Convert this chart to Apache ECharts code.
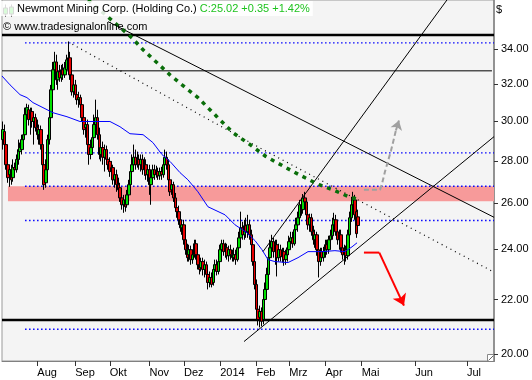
<!DOCTYPE html>
<html><head><meta charset="utf-8">
<script src="https://cdn.jsdelivr.net/npm/echarts@6/dist/echarts.min.js"></script>
<style>html,body{margin:0;padding:0;background:#fff}#c{width:532px;height:380px}</style>
</head><body><div id="c"></div>
<script>
// Bars are indexed in trading days, 0 = 1 Aug 2013; future area continues in calendar-day slots.
const firstBar = -20;
const open = [29.05,29.46,28.80,27.81,27.33,27.57,27.19,27.67,27.57,28.07,28.45,28.55,29.05,29.30,30.34,30.60,30.08,30.50,29.98,30.18,
29.66,29.30,29.56,28.80,27.81,26.95,27.57,29.05,30.18,31.68,32.80,33.25,32.23,32.69,32.34,32.80,32.51,32.80,33.37,33.49,32.51,31.57,
31.95,31.41,31.14,31.25,30.87,30.18,29.66,29.82,28.80,28.31,28.65,29.15,29.82,30.18,29.30,28.31,28.65,28.17,28.55,28.07,
27.97,27.48,27.67,27.09,27.33,26.86,26.72,26.25,25.94,26.16,25.94,26.39,26.86,27.48,27.81,28.17,27.81,28.07,27.81,28.07,27.57,27.81,27.33,
27.57,26.86,27.19,27.57,27.33,27.48,27.28,27.48,27.33,27.81,28.17,27.81,27.09,26.62,26.86,26.25,25.81,25.63,25.27,24.92,
25.05,24.41,23.99,23.78,23.99,23.58,23.78,24.24,23.78,23.37,23.25,23.50,23.18,23.37,22.98,22.66,22.86,22.66,23.18,23.37,23.10,
23.50,23.99,24.24,23.91,24.07,23.74,23.99,23.78,23.66,23.78,23.58,24.07,24.49,24.92,24.62,25.01,24.75,25.05,24.62,24.20,23.50,
22.58,21.63,21.33,21.55,21.25,22.00,22.39,22.98,23.66,24.07,24.33,23.91,24.20,23.66,23.99,23.70,23.91,23.58,23.78,
23.99,24.33,24.49,24.24,24.84,25.05,25.36,25.94,25.72,26.25,26.07,25.49,25.05,25.36,24.75,24.41,24.62,23.99,23.50,23.91,23.66,
23.91,24.20,23.99,24.41,24.58,25.05,25.27,24.75,24.41,24.62,24.07,23.78,23.99,23.74,24.62,25.36,25.94,26.16,25.63,25.40];
const high = [29.98,29.82,29.05,28.07,27.81,27.81,28.07,27.91,28.31,29.05,28.90,29.30,29.66,30.71,30.92,30.87,30.71,30.71,30.50,30.39,
30.08,29.82,29.77,29.05,28.17,28.07,29.30,30.50,31.95,33.25,33.84,33.67,33.02,33.08,33.08,33.14,33.25,33.67,34.43,33.84,32.80,32.23,
32.23,31.79,31.57,31.41,31.14,30.50,30.18,30.08,29.15,29.05,29.46,30.34,31.14,30.60,29.66,29.05,28.95,28.80,28.75,28.31,
28.17,27.97,27.81,27.57,27.57,27.19,26.95,26.53,26.39,26.34,26.62,27.09,27.67,28.31,28.80,28.55,28.45,28.31,28.31,28.31,28.17,28.07,27.81,
27.81,27.57,27.81,27.81,27.76,27.67,27.67,27.71,28.07,28.55,28.45,28.07,27.33,27.09,27.00,26.48,26.07,25.90,25.49,25.27,
25.27,24.62,24.24,24.20,24.16,23.99,24.41,24.41,23.99,23.66,23.66,23.66,23.58,23.50,23.18,23.10,23.06,23.37,23.58,23.58,23.70,
24.20,24.41,24.41,24.28,24.24,24.16,24.20,23.99,24.07,23.99,24.24,24.75,25.63,25.18,25.27,25.36,25.49,25.27,24.84,24.49,23.78,
22.78,21.81,21.77,21.70,22.15,22.66,23.25,23.78,24.41,24.62,24.49,24.41,24.41,24.24,24.20,24.07,24.07,23.99,24.24,
24.58,24.75,24.75,25.05,25.36,25.63,26.16,26.25,26.43,26.53,26.25,25.72,25.54,25.54,25.01,24.84,24.75,24.24,24.07,24.07,24.11,
24.41,24.41,24.58,24.84,25.36,25.58,25.49,25.01,24.84,24.84,24.24,24.20,24.16,24.84,25.63,26.30,26.53,26.39,25.81,25.72];
const low = [28.55,28.55,27.57,26.95,26.76,26.86,27.00,27.33,27.43,27.81,28.07,28.31,28.80,29.15,29.98,29.77,29.30,29.66,28.80,29.46,
29.05,28.80,28.55,27.57,26.62,26.72,27.33,28.80,29.98,31.41,32.34,31.95,31.68,32.12,32.12,32.23,32.34,32.57,32.80,32.23,31.36,31.25,
31.14,30.87,30.71,30.60,29.98,29.30,29.15,28.55,27.81,28.07,28.31,28.95,29.56,29.05,28.07,27.97,27.81,27.48,27.81,27.57,
27.23,27.19,26.86,26.72,26.53,26.39,26.07,25.72,25.58,25.63,25.81,26.16,26.62,27.19,27.57,27.57,27.67,27.57,27.48,27.33,27.28,27.09,27.00,
26.39,25.94,27.00,27.09,27.19,27.09,27.09,27.09,27.19,27.57,27.57,26.86,26.34,26.39,26.07,25.63,25.36,25.05,24.75,24.62,
24.20,23.78,23.50,23.50,23.37,23.41,23.66,23.58,23.18,22.98,23.10,22.94,22.86,22.78,22.39,22.47,22.47,22.54,22.98,22.94,22.98,
23.33,23.78,23.74,23.66,23.58,23.50,23.58,23.50,23.50,23.37,23.50,23.91,24.33,24.41,24.41,24.49,24.49,24.41,23.99,23.33,22.39,
21.44,21.03,20.96,21.00,21.07,21.63,22.19,22.78,23.50,23.78,23.66,23.37,22.90,23.50,23.50,23.46,23.33,23.37,23.50,
23.78,24.07,24.07,24.16,24.58,24.75,25.18,25.45,25.54,25.81,25.27,24.84,24.75,24.58,24.20,24.07,23.74,22.86,23.33,23.50,23.50,
23.66,23.78,23.82,24.20,24.41,24.75,24.58,24.20,23.99,23.87,23.58,23.37,23.50,23.58,24.41,25.18,25.63,25.27,24.49,24.71];
const close = [29.56,28.80,27.81,27.19,27.57,27.09,27.67,27.57,28.07,28.55,28.65,29.05,29.30,30.34,30.71,30.08,30.50,29.98,30.18,29.66,
29.30,29.56,28.80,27.81,26.86,27.57,29.05,30.18,31.68,32.80,33.25,32.23,32.69,32.34,32.80,32.51,32.91,33.37,33.49,32.51,31.57,31.95,
31.41,31.14,31.25,30.87,30.18,29.56,29.82,28.80,28.31,28.65,29.15,29.82,30.18,29.30,28.31,28.65,28.17,28.55,28.07,27.81,
27.48,27.67,27.09,27.33,26.86,26.62,26.25,25.94,26.16,25.85,26.39,26.86,27.48,27.81,28.17,27.81,28.07,27.81,28.07,27.57,27.81,27.33,27.57,
26.86,27.19,27.57,27.33,27.48,27.28,27.48,27.33,27.81,28.17,27.81,27.09,26.53,26.86,26.25,25.81,25.63,25.27,24.92,25.05,
24.41,23.99,23.66,23.99,23.58,23.78,24.24,23.78,23.37,23.18,23.50,23.18,23.37,22.98,22.66,22.86,22.58,23.18,23.37,23.10,23.50,
23.99,24.24,23.91,24.07,23.74,23.99,23.78,23.66,23.78,23.58,24.07,24.49,24.92,24.62,25.01,24.75,25.05,24.62,24.20,23.50,22.58,
21.63,21.25,21.55,21.18,22.00,22.39,22.98,23.66,24.07,24.33,23.91,24.20,23.66,23.99,23.70,23.91,23.58,23.78,24.07,
24.33,24.49,24.24,24.84,25.05,25.36,25.94,25.72,26.25,26.07,25.49,25.05,25.36,24.75,24.41,24.62,23.99,23.50,23.91,23.66,23.91,
24.20,23.99,24.41,24.58,25.05,25.27,24.75,24.41,24.62,24.07,23.78,23.99,23.74,24.62,25.36,25.94,26.16,25.49,24.67,25.02];

// moving average (blue), read at sparse points: bar position / price
const maPos   = [-20.5,-15.8,-10.0,-6.0,-2.5,3.3,9.1,17.2,24.7,33.4,42.1,47.9,53.7,61.3,67.0,72.2,76.9,82.7,87.3,93.1,98.9,108.8,114.6,121.5,126.2,130.2,133.7,137.7,145.3,151.1,156.9,165.0,172.5,178.3,182.4,185.3];
const maPrice = [32.45,31.95,31.41,31.25,30.98,30.71,30.44,30.23,29.98,29.98,29.98,29.71,29.35,29.30,28.90,28.31,27.97,27.43,27.09,26.53,25.85,25.49,25.05,24.71,24.37,23.99,23.58,23.50,23.46,23.66,23.91,23.91,23.95,23.91,24.11,24.28];

// green dotted resistance curve
const greenPos   = [29.4,46.2,54.9,61.3,69.4,76.9,83.9,93.1,104.1,113.4,123.3,132.5,144.1,151.7,163.3,171.4,180.6,184.7];
const greenPrice = [37.03,35.47,34.67,33.96,33.20,32.51,31.95,31.25,30.23,29.40,28.80,28.21,27.67,27.33,26.86,26.62,26.30,26.21];

// trend lines [position, price]
const downTrend   = [[41.0,35.66],[264.7,25.38]];
const steepUp     = [[130.8,23.91],[237.4,37.03]];
const lowerUp     = [[119.8,20.45],[264.7,29.20]];
const dottedDown  = [[17.8,34.43],[130.8,28.55],[264.7,23.07]];
const grayPath    = [[189.3,26.62],[198.6,26.62],[199.8,26.91],[201.5,27.48],[203.2,27.97],[205.0,28.50],[206.7,29.10],[207.8,29.51]];
const grayHead    = [[207.8,29.51],[209.6,30.03]];
const redPath     = [[189.3,23.87],[198.2,23.87]];
const redHead     = [[198.2,23.87],[212.5,21.77]];

// horizontal levels
const thickLevels  = [34.85, 21.23];
const thinLevel    = 32.74;
const dottedLevels = [34.37, 28.39, 26.79, 25.24, 20.89];
const zoneTop = 26.79, zoneBottom = 26.10;

// axes
const monthPos    = [0,22,42,65,85,106,127,146,167,188,219,249];
const monthLabels = ['Aug','Sep','Okt','Nov','Dez','2014','Feb','Mrz','Apr','Mai','Jun','Jul'];
const priceTicks  = [20,22,24,26,28,30,32,34];
const xMin = -20.46, xMax = 264.68;
const priceMin = 19.77, priceMax = 37.03;

const L = Math.log;
const toXY = arr => arr.map(p => [p[0], L(p[1])]);
const FONT = 'Liberation Sans';

const candles = open.map((o, i) => [firstBar + i, L(o), L(close[i]), L(low[i]), L(high[i])]);
const ma = maPos.map((x, i) => [x, L(maPrice[i])]);
const green = greenPos.map((x, i) => [x, L(greenPrice[i])]);

function seg(data, style, z) {
  return {type: 'line', data: data, symbol: 'none', silent: true, lineStyle: style, z: z || 4, animation: false};
}

const series = [];
// zone
series.push({
  type: 'line', data: [], silent: true, z: 1,
  markArea: {silent: true, itemStyle: {color: '#f79a9a', opacity: 1},
    data: [[{coord: [-17.0, L(zoneTop)]}, {coord: [xMax, L(zoneBottom)]}]]}
});
thickLevels.forEach(p => series.push(seg([[xMin, L(p)], [xMax, L(p)]], {color: '#000', width: 2.5}, 2)));
series.push(seg([[xMin, L(thinLevel)], [263.5, L(thinLevel)]], {color: '#000', width: 1}, 2));
dottedLevels.forEach(p => series.push(seg([[-7.1, L(p)], [xMax, L(p)]], {color: '#0000ff', width: 1.4, type: [1.5, 2.5]}, 2)));

series.push({
  type: 'candlestick', data: candles, encode: {x: 0, y: [1, 2, 3, 4]},
  barWidth: 3, z: 3, silent: true,
  itemStyle: {color: '#00e000', color0: '#e80000', borderColor: '#000', borderColor0: '#000', borderWidth: 1}
});
series.push(seg(ma, {color: '#0000ff', width: 1}, 5));
series.push(seg(toXY(downTrend), {color: '#000', width: 1}, 6));
series.push(seg(toXY(steepUp), {color: '#000', width: 1}, 6));
series.push(seg(toXY(lowerUp), {color: '#000', width: 1}, 6));
series.push(seg(toXY(dottedDown), {color: '#000', width: 1.2, type: [1, 4]}, 6));
series.push(seg(green, {color: '#0a6e0a', width: 3.5, type: [4, 5]}, 7));
series.push(seg(toXY(grayPath), {color: '#a0a0a0', width: 2, type: [5, 3]}, 7));
series.push({type: 'lines', coordinateSystem: 'cartesian2d', silent: true, z: 7,
  data: [{coords: toXY(grayHead)}], symbol: ['none', 'arrow'], symbolSize: 9,
  lineStyle: {color: '#a0a0a0', width: 2, opacity: 1}});
series.push(seg(toXY(redPath), {color: '#ff0000', width: 2}, 7));
series.push({type: 'lines', coordinateSystem: 'cartesian2d', silent: true, z: 7,
  data: [{coords: toXY(redHead)}], symbol: ['none', 'arrow'], symbolSize: 11,
  lineStyle: {color: '#ff0000', width: 2, opacity: 1}});

const chart = echarts.init(document.getElementById('c'), null, {renderer: 'canvas'});
chart.setOption({
  animation: false,
  backgroundColor: '#ffffff',
  title: [{
    text: '{a|Newmont Mining Corp. (Holding Co.)} {b|C:25.02 +0.35 +1.42%}',
    left: 0, top: 0, padding: [2, 3, 2, 17], z: 20,
    backgroundColor: 'rgba(255,255,255,0.85)',
    textStyle: {fontSize: 11, fontWeight: 'normal', fontFamily: FONT,
      rich: {a: {color: '#000', fontSize: 11, fontFamily: FONT, lineHeight: 13},
             b: {color: '#1ec31e', fontSize: 11, fontFamily: FONT, lineHeight: 13}}}
  }, {
    text: '\u00a9 www.tradesignalonline.com', left: 3, top: 20, padding: 0, z: 20,
    textStyle: {fontSize: 11, fontWeight: 'normal', fontFamily: FONT, color: '#000', lineHeight: 13}
  }],
  grid: {left: 2, right: 38, top: 0, bottom: 19, show: true, backgroundColor: '#f4f4f4', borderColor: '#999', borderWidth: 1},
  xAxis: {
    type: 'value', min: xMin, max: xMax,
    axisLine: {show: true, lineStyle: {color: '#808080', width: 1}},
    axisTick: {show: true, customValues: monthPos, length: 5, lineStyle: {color: '#333'}},
    axisLabel: {customValues: monthPos, align: 'left', margin: 6, fontSize: 11, fontFamily: FONT, color: '#000',
      formatter: v => { let k = 0, d = 1e9; monthPos.forEach((m, i) => { if (Math.abs(m - v) < d) { d = Math.abs(m - v); k = i; } }); return monthLabels[k]; }},
    splitLine: {show: false}
  },
  yAxis: {
    type: 'value', position: 'right', min: L(priceMin), max: L(priceMax),
    axisLine: {show: true, onZero: false, lineStyle: {color: '#808080', width: 1.5}},
    axisTick: {show: true, customValues: priceTicks.map(L), length: 4, lineStyle: {color: '#333'}},
    axisLabel: {customValues: priceTicks.map(L), margin: 7, fontSize: 11, fontFamily: FONT, color: '#000',
      formatter: v => Math.exp(v).toFixed(2)},
    splitLine: {show: false}
  },
  graphic: [
    {type: 'text', left: 496, top: 4, z: 20, style: {text: '$', fontSize: 11, fontFamily: FONT, fill: '#000'}},
    {type: 'group', left: 3, top: 2, z: 30, children: [
      {type: 'line', shape: {x1: 2.5, y1: 0, x2: 2.5, y2: 12}, style: {stroke: '#000', lineWidth: 1}},
      {type: 'rect', shape: {x: 0.5, y: 3.5, width: 4, height: 6}, style: {fill: '#00e000', stroke: '#000', lineWidth: 1}},
      {type: 'line', shape: {x1: 8.5, y1: 0, x2: 8.5, y2: 12}, style: {stroke: '#000', lineWidth: 1}},
      {type: 'rect', shape: {x: 6.5, y: 2.5, width: 4, height: 7}, style: {fill: '#00e000', stroke: '#000', lineWidth: 1}}
    ]},
    {type: 'group', left: 486, top: 353, z: 30, children: [
      {type: 'rect', shape: {x: 0.5, y: 0.5, width: 7, height: 7}, style: {fill: '#fff', stroke: '#888', lineWidth: 1}},
      {type: 'line', shape: {x1: 1.5, y1: 6.5, x2: 6.5, y2: 1.5}, style: {stroke: '#666', lineWidth: 1}}
    ]}
  ],
  series: series
});
</script></body></html>
